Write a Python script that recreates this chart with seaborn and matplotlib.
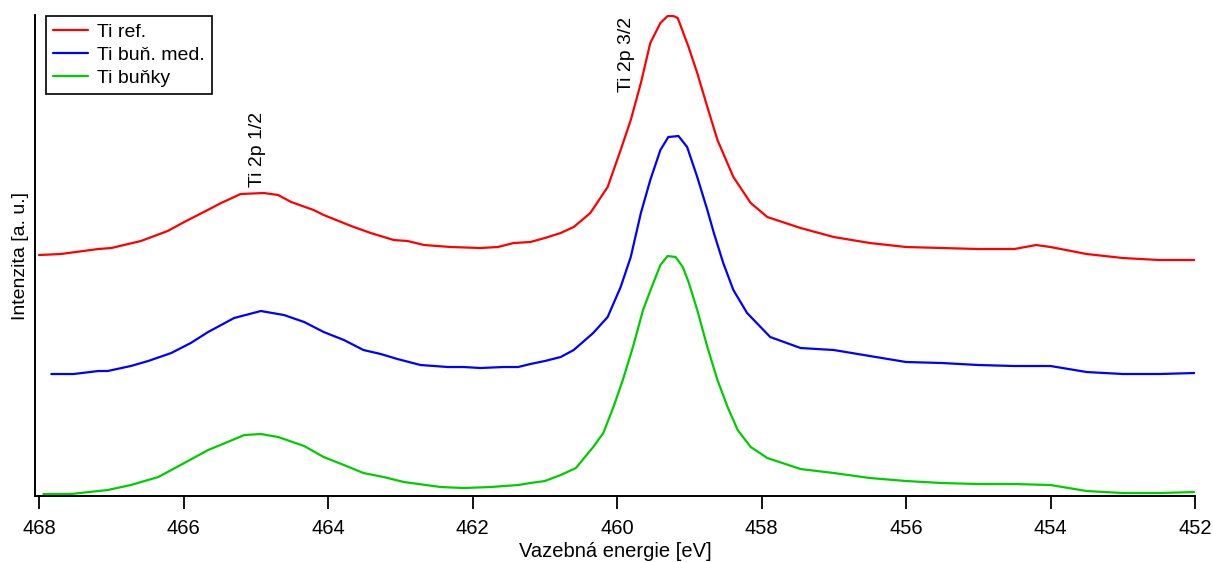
import matplotlib
matplotlib.use("Agg")
import matplotlib.pyplot as plt
import seaborn as sns
import pandas as pd

# Ti 2p spectra (binding energy in eV, intensity in arbitrary units, curves offset)
ref_energy = [468.00, 467.70, 467.18, 467.00, 466.59, 466.22, 465.99, 465.72, 465.48, 465.21,
              464.89, 464.69, 464.51, 464.20, 464.06, 463.68, 463.41, 463.09, 462.90, 462.67,
              462.30, 461.89, 461.65, 461.43, 461.20, 461.00, 460.78, 460.60, 460.37, 460.13,
              459.95, 459.81, 459.67, 459.54, 459.40, 459.30, 459.22, 459.16, 459.01, 458.89,
              458.75, 458.61, 458.39, 458.15, 457.92, 457.46, 457.00, 456.50, 456.00, 455.50,
              455.00, 454.50, 454.20, 454.00, 453.50, 453.00, 452.50, 452.00]
ref_intensity = [240, 241, 246, 247, 254, 264, 273, 283, 292, 301,
                 302, 300, 293, 285, 280, 269, 262, 255, 254, 250,
                 248, 247, 248, 252, 253, 257, 262, 268, 282, 308,
                 345, 375, 412, 452, 472, 479, 479, 477, 448, 422,
                 388, 355, 318, 292, 278, 267, 258, 252, 248, 247,
                 246, 246, 250, 248, 241, 237, 235, 235]

med_energy = [467.83, 467.52, 467.18, 467.05, 466.73, 466.49, 466.17, 465.90, 465.66, 465.30,
              464.93, 464.61, 464.33, 464.06, 463.78, 463.51, 463.27, 463.04, 462.72, 462.34,
              462.12, 461.89, 461.57, 461.37, 461.20, 461.00, 460.78, 460.60, 460.33, 460.13,
              459.95, 459.81, 459.67, 459.54, 459.40, 459.29, 459.15, 459.03, 458.89, 458.75,
              458.66, 458.53, 458.39, 458.20, 457.88, 457.46, 457.00, 456.50, 456.00, 455.50,
              455.00, 454.50, 454.00, 453.50, 453.00, 452.50, 452.00]
med_intensity = [121, 121, 124, 124, 129, 134, 142, 152, 163, 177,
                 184, 180, 173, 163, 155, 145, 141, 136, 130, 128,
                 128, 127, 128, 128, 131, 134, 138, 145, 162, 178,
                 208, 238, 282, 315, 345, 358, 359, 348, 318, 285,
                 262, 232, 205, 182, 158, 147, 145, 139, 133, 132,
                 130, 129, 129, 123, 121, 121, 122]

cell_energy = [467.94, 467.70, 467.56, 467.18, 467.05, 466.73, 466.35, 465.99, 465.66, 465.39,
               465.16, 464.93, 464.69, 464.33, 464.06, 463.78, 463.51, 463.23, 462.95, 462.44,
               462.12, 461.75, 461.37, 461.20, 461.00, 460.78, 460.57, 460.33, 460.19, 460.05,
               459.92, 459.78, 459.64, 459.52, 459.40, 459.30, 459.19, 459.09, 459.01, 458.89,
               458.75, 458.61, 458.47, 458.33, 458.15, 457.92, 457.46, 457.00, 456.50, 456.00,
               455.50, 455.00, 454.50, 454.00, 453.50, 453.00, 452.50, 452.00]
cell_intensity = [1, 1, 1, 4, 5, 10, 18, 32, 45, 53,
                  60, 61, 58, 49, 38, 30, 22, 18, 13, 8,
                  7, 8, 10, 12, 14, 20, 27, 48, 62, 88,
                  115, 148, 185, 208, 230, 239, 238, 228, 213, 185,
                  148, 115, 88, 65, 48, 37, 26, 22, 17, 14,
                  12, 11, 11, 10, 4, 2, 2, 3]

series_names = ["Ti ref.", "Ti buň. med.", "Ti buňky"]
series_colors = ["#ff0000", "#0000ff", "#00cc00"]

peak_labels = ["Ti 2p 3/2", "Ti 2p 1/2"]
peak_positions = [459.87, 464.97]
peak_label_heights = [403, 308]

x_ticks = [468, 466, 464, 462, 460, 458, 456, 454, 452]

frames = []
for name, e, i in zip(series_names,
                      [ref_energy, med_energy, cell_energy],
                      [ref_intensity, med_intensity, cell_intensity]):
    frames.append(pd.DataFrame({"energy": e, "intensity": i, "sample": name}))
data = pd.concat(frames, ignore_index=True)

sns.set_style("ticks")
plt.rcParams["font.family"] = ["Liberation Sans", "DejaVu Sans"]
plt.rcParams["text.color"] = "black"
plt.rcParams["axes.labelcolor"] = "black"
plt.rcParams["xtick.color"] = "black"
plt.rcParams["ytick.color"] = "black"

fig = plt.figure(figsize=(12.13, 5.62), dpi=100)
ax = fig.add_axes([0.0289, 0.1174, 0.9563, 0.8559])

sns.lineplot(data=data, x="energy", y="intensity", hue="sample",
             palette=dict(zip(series_names, series_colors)),
             hue_order=series_names, estimator=None, sort=False,
             linewidth=1.6, ax=ax)

ax.set_xlim(468.055, 452)
ax.set_ylim(-1, 480)
ax.set_xticks(x_ticks)
ax.set_xticklabels([str(t) for t in x_ticks], fontsize=14.5)
ax.set_yticks([])
ax.tick_params(axis="x", direction="out", length=9.5, width=1.3, pad=7,
               color="black", labelcolor="black")

for side in ["top", "right"]:
    ax.spines[side].set_visible(False)
for side in ["left", "bottom"]:
    ax.spines[side].set_linewidth(1.4)
    ax.spines[side].set_color("black")

ax.set_xlabel("Vazebná energie [eV]", fontsize=14.5, labelpad=3)
ax.set_ylabel("Intenzita [a. u.]", fontsize=14)
ax.yaxis.set_label_coords(-0.005, 0.5)

for text, xpos, ypos in zip(peak_labels, peak_positions, peak_label_heights):
    ax.text(xpos, ypos, text, rotation=90, ha="center", va="bottom", fontsize=14,
            color="black")

leg = ax.legend(loc="upper left", bbox_to_anchor=(0.0095, 0.998), borderaxespad=0,
                fontsize=14, frameon=True, fancybox=False, framealpha=1,
                edgecolor="black", handlelength=1.8, handletextpad=0.45,
                labelspacing=0.28, borderpad=0.38, title=None)
leg.get_frame().set_linewidth(1.2)

fig.savefig("out.png", dpi=100)
